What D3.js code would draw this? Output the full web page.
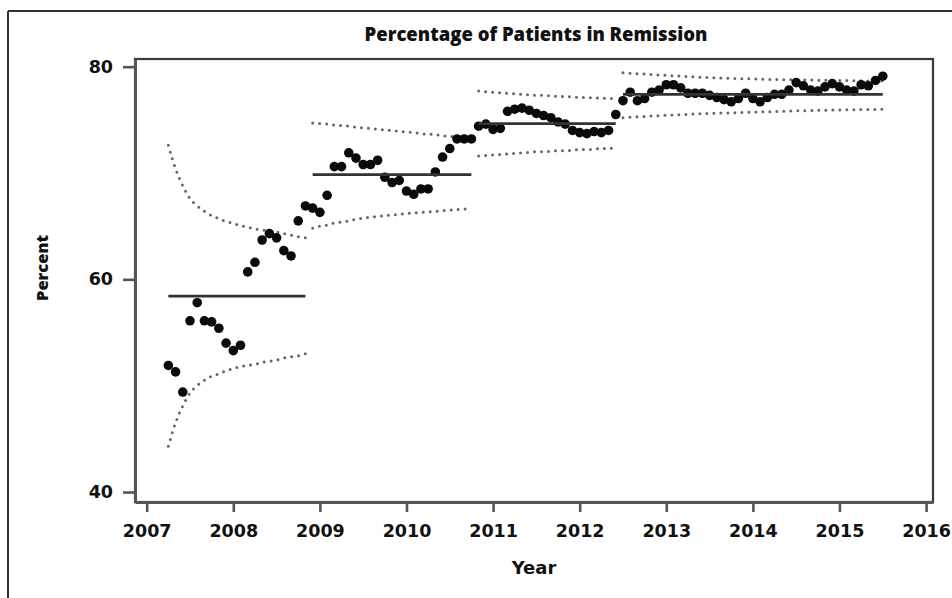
<!DOCTYPE html>
<html>
<head>
<meta charset="utf-8">
<script src="https://cdn.jsdelivr.net/npm/d3@7"></script>
<style>
  html, body { margin: 0; padding: 0; background: #fff; }
  svg { display: block; }
</style>
</head>
<body>
<svg id="chart" width="952" height="598"></svg>
<script>
// ---------------- DATA ----------------
const chartTitle = "Percentage of Patients in Remission";
const xLabel = "Year";
const yLabel = "Percent";
const xTicks = [2007, 2008, 2009, 2010, 2011, 2012, 2013, 2014, 2015, 2016];
const yTicks = [40, 60, 80];
const firstMonth = 2007.25; // April 2007, monthly points

// Phase 1 (Apr 2007 - Nov 2008)
const phase1Values = [51.9, 51.3, 49.4, 56.1, 57.8, 56.1, 56.0, 55.4, 54.0, 53.3,
                      53.8, 60.7, 61.6, 63.7, 64.3, 63.9, 62.7, 62.2, 65.5, 66.9];
const phase1Ucl = [72.6, 70.4, 68.8, 67.6, 66.9, 66.4, 66.0, 65.7, 65.45, 65.25,
                   65.07, 64.9, 64.75, 64.65, 64.55, 64.45, 64.3, 64.15, 64.0, 63.9];
const phase1Lcl = [44.3, 46.5, 48.1, 49.3, 50.0, 50.5, 50.9, 51.1, 51.4, 51.6,
                   51.8, 51.9, 52.0, 52.2, 52.3, 52.4, 52.6, 52.7, 52.8, 53.0];

// Phase 2 (Dec 2008 - Oct 2010)
const phase2Values = [66.7, 66.3, 67.9, 70.6, 70.6, 71.9, 71.4, 70.8, 70.8, 71.2,
                      69.6, 69.1, 69.3, 68.3, 68.0, 68.5, 68.5, 70.1, 71.5, 72.3,
                      73.2, 73.2, 73.2];
const phase2Ucl = [74.7, 74.65, 74.6, 74.5, 74.45, 74.4, 74.3, 74.25, 74.2, 74.1,
                   74.05, 74.0, 73.9, 73.85, 73.8, 73.7, 73.65, 73.6, 73.5, 73.45,
                   73.4, 73.3, 73.25];
const phase2Lcl = [64.8, 65.0, 65.1, 65.3, 65.4, 65.5, 65.65, 65.75, 65.85, 65.9,
                   66.0, 66.05, 66.1, 66.2, 66.25, 66.3, 66.35, 66.4, 66.45, 66.5,
                   66.55, 66.6, 66.65];

// Phase 3 (Nov 2010 - Jun 2012)
const phase3Values = [74.4, 74.6, 74.1, 74.2, 75.8, 76.0, 76.1, 75.9, 75.6, 75.4,
                      75.2, 74.8, 74.6, 74.0, 73.8, 73.7, 73.9, 73.8, 74.0, 75.5];
const phase3Ucl = [77.7, 77.65, 77.6, 77.55, 77.5, 77.45, 77.4, 77.35, 77.3, 77.3,
                   77.25, 77.2, 77.2, 77.15, 77.1, 77.1, 77.05, 77.05, 77.0, 77.0];
const phase3Lcl = [71.6, 71.65, 71.7, 71.75, 71.8, 71.85, 71.9, 71.95, 72.0, 72.0,
                   72.05, 72.1, 72.1, 72.15, 72.2, 72.2, 72.25, 72.3, 72.3, 72.4];

// Phase 4 (Jul 2012 - Jul 2015)
const phase4Values = [76.8, 77.6, 76.8, 77.0, 77.6, 77.8, 78.3, 78.3, 78.0, 77.5,
                      77.5, 77.5, 77.3, 77.1, 76.9, 76.7, 77.0, 77.5, 77.0, 76.7,
                      77.1, 77.4, 77.4, 77.8, 78.5, 78.2, 77.8, 77.7, 78.1, 78.4,
                      78.1, 77.8, 77.7, 78.3, 78.2, 78.7, 79.1];
const phase4Ucl = [79.42, 79.38, 79.34, 79.3, 79.26, 79.22, 79.18, 79.14, 79.1, 79.06,
                   79.03, 79.0, 78.97, 78.94, 78.92, 78.9, 78.88, 78.86, 78.84, 78.82,
                   78.8, 78.79, 78.78, 78.77, 78.76, 78.75, 78.74, 78.73, 78.72, 78.71,
                   78.7, 78.69, 78.68, 78.67, 78.66, 78.66, 78.65];
const phase4Lcl = [75.2, 75.24, 75.28, 75.32, 75.36, 75.4, 75.43, 75.46, 75.49, 75.52,
                   75.55, 75.58, 75.6, 75.62, 75.64, 75.66, 75.68, 75.7, 75.72, 75.74,
                   75.76, 75.78, 75.8, 75.82, 75.84, 75.86, 75.88, 75.9, 75.91, 75.92,
                   75.93, 75.94, 75.95, 75.96, 75.97, 75.98, 76.0];

const phaseCenters = [58.43, 69.85, 74.65, 77.4];

// ---------------- BUILD ----------------
const phaseValues = [phase1Values, phase2Values, phase3Values, phase4Values];
const phaseUcls = [phase1Ucl, phase2Ucl, phase3Ucl, phase4Ucl];
const phaseLcls = [phase1Lcl, phase2Lcl, phase3Lcl, phase4Lcl];

let offset = 0;
const phases = phaseValues.map((vals, p) => {
  const pts = vals.map((v, i) => ({
    t: firstMonth + (offset + i) / 12,
    v: v,
    ucl: phaseUcls[p][i],
    lcl: phaseLcls[p][i]
  }));
  offset += vals.length;
  return { pts, center: phaseCenters[p] };
});

const svg = d3.select("#chart");
const W = 952, H = 598;
const plot = { left: 135, right: 933, top: 59, bottom: 502 };

const x = d3.scaleLinear().domain([2006.865, 2016.08]).range([plot.left, plot.right]);
const y = d3.scaleLinear().domain([39.06, 80.72]).range([plot.bottom, plot.top]);

// outer frame (left & top)
svg.append("line").attr("x1", 8).attr("x2", 8).attr("y1", 11).attr("y2", H)
  .attr("stroke", "#333").attr("stroke-width", 2);
svg.append("line").attr("x1", 8).attr("x2", W).attr("y1", 11).attr("y2", 11)
  .attr("stroke", "#333").attr("stroke-width", 2);

// title
svg.append("text")
  .attr("x", 536).attr("y", 41)
  .attr("text-anchor", "middle")
  .attr("font-family", "'Open Sans', sans-serif")
  .attr("font-weight", 800)
  .attr("font-size", 18.5)
  .attr("fill", "#111")
  .text(chartTitle);

// plot box
svg.append("rect")
  .attr("x", plot.left).attr("y", plot.top)
  .attr("width", plot.right - plot.left).attr("height", plot.bottom - plot.top)
  .attr("fill", "none").attr("stroke", "#3a3a3a").attr("stroke-width", 2.2);

// axes
const xAxis = svg.append("g")
  .attr("transform", `translate(0,${plot.bottom})`)
  .call(d3.axisBottom(x).tickValues(xTicks).tickFormat(d3.format("d"))
        .tickSize(10).tickSizeOuter(0).tickPadding(13));
const yAxis = svg.append("g")
  .attr("transform", `translate(${plot.left},0)`)
  .call(d3.axisLeft(y).tickValues(yTicks).tickSize(12).tickSizeOuter(0).tickPadding(10));

[xAxis, yAxis].forEach(g => {
  g.select(".domain").attr("stroke", "#555").attr("stroke-width", 3);
  g.selectAll(".tick line").attr("stroke", "#555").attr("stroke-width", 2.6);
  g.selectAll(".tick text")
    .attr("font-family", "'DejaVu Sans', sans-serif")
    .attr("font-weight", 700)
    .attr("font-size", 17.5)
    .attr("fill", "#111");
});

// axis titles
svg.append("text")
  .attr("x", 534).attr("y", 574)
  .attr("text-anchor", "middle")
  .attr("font-family", "'DejaVu Sans', sans-serif")
  .attr("font-weight", 700)
  .attr("font-size", 18)
  .attr("fill", "#111")
  .text(xLabel);
svg.append("text")
  .attr("transform", "translate(48,268) rotate(-90)")
  .attr("text-anchor", "middle")
  .attr("font-family", "'Open Sans', sans-serif")
  .attr("font-weight", 800)
  .attr("font-size", 16.5)
  .attr("fill", "#111")
  .text(yLabel);

// control limits (dotted)
const uclLine = d3.line().x(d => x(d.t)).y(d => y(d.ucl)).curve(d3.curveMonotoneX);
const lclLine = d3.line().x(d => x(d.t)).y(d => y(d.lcl)).curve(d3.curveMonotoneX);
const limits = svg.append("g");
phases.forEach(ph => {
  [uclLine, lclLine].forEach(gen => {
    limits.append("path")
      .attr("d", gen(ph.pts))
      .attr("fill", "none")
      .attr("stroke", "#666")
      .attr("stroke-width", 3)
      .attr("stroke-linecap", "round")
      .attr("stroke-dasharray", "0,7");
  });
});

// points
const pts = svg.append("g");
phases.forEach(ph => {
  pts.selectAll(null).data(ph.pts).enter().append("circle")
    .attr("cx", d => x(d.t)).attr("cy", d => y(d.v))
    .attr("r", 4.8).attr("fill", "#0a0a0a");
});

// center lines
phases.forEach(ph => {
  svg.append("line")
    .attr("x1", x(ph.pts[0].t)).attr("x2", x(ph.pts[ph.pts.length - 1].t))
    .attr("y1", y(ph.center)).attr("y2", y(ph.center))
    .attr("stroke", "#333").attr("stroke-width", 2.8);
});
</script>
</body>
</html>
